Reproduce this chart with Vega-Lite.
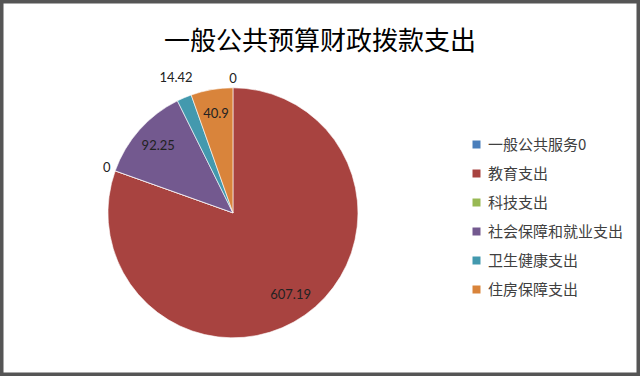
{
  "$schema": "https://vega.github.io/schema/vega-lite/v6.json",
  "width": 640,
  "height": 376,
  "autosize": {"type": "none"},
  "padding": 0,
  "background": "white",
  "view": {"stroke": "#555555", "strokeWidth": 7, "fill": "white"},
  "title": {
    "text": "一般公共预算财政拨款支出",
    "font": "Noto Sans CJK SC",
    "fontSize": 26,
    "fontWeight": "normal",
    "color": "#000000",
    "anchor": "middle",
    "orient": "bottom",
    "offset": -347,
    "baseline": "top"
  },
  "data": {
    "values": [
      {"category": "一般公共服务0", "value": 0, "idx": 1},
      {"category": "教育支出", "value": 607.19, "idx": 2},
      {"category": "科技支出", "value": 0, "idx": 3},
      {"category": "社会保障和就业支出", "value": 92.25, "idx": 4},
      {"category": "卫生健康支出", "value": 14.42, "idx": 5},
      {"category": "住房保障支出", "value": 40.9, "idx": 6}
    ]
  },
  "encoding": {
    "theta": {"field": "value", "type": "quantitative", "stack": true},
    "order": {"field": "idx", "type": "quantitative"}
  },
  "layer": [
    {
      "mark": {
        "type": "arc",
        "outerRadius": 125,
        "x": {"expr": "width*0.364"},
        "y": {"expr": "height*0.566"},
        "stroke": "#ffffff",
        "strokeWidth": 0.6
      },
      "encoding": {
        "color": {
          "field": "category",
          "type": "nominal",
          "scale": {
            "domain": ["一般公共服务0", "教育支出", "科技支出", "社会保障和就业支出", "卫生健康支出", "住房保障支出"],
            "range": ["#4A7EBB", "#A84340", "#98B954", "#73598F", "#4399AE", "#D9843B"]
          },
          "legend": {
            "orient": "none",
            "legendX": 469,
            "legendY": 137,
            "title": null,
            "symbolType": "square",
            "symbolSize": 64,
            "symbolStrokeWidth": 0,
            "labelFont": "Noto Sans CJK SC",
            "labelFontSize": 15,
            "labelColor": "#404040",
            "labelOffset": 4,
            "rowPadding": 13
          }
        }
      }
    },
    {
      "mark": {
        "type": "text",
        "radius": 100,
        "x": {"expr": "width*0.364"},
        "y": {"expr": "height*0.566"},
        "font": "Lato",
        "fontSize": 13,
        "color": "#222222"
      },
      "encoding": {
        "text": {"condition": {"test": "datum.value >= 40", "field": "value", "type": "nominal"}, "value": ""}
      }
    },
    {
      "mark": {
        "type": "text",
        "radius": 146,
        "x": {"expr": "width*0.364"},
        "y": {"expr": "height*0.566"},
        "font": "Lato",
        "fontSize": 13,
        "color": "#222222"
      },
      "encoding": {
        "text": {"condition": {"test": "datum.value > 0 && datum.value < 40", "field": "value", "type": "nominal"}, "value": ""}
      }
    },
    {
      "mark": {
        "type": "text",
        "radius": 134,
        "x": {"expr": "width*0.364"},
        "y": {"expr": "height*0.566"},
        "font": "Lato",
        "fontSize": 13,
        "color": "#222222"
      },
      "encoding": {
        "text": {"condition": {"test": "datum.value == 0", "field": "value", "type": "nominal"}, "value": ""}
      }
    }
  ]
}
